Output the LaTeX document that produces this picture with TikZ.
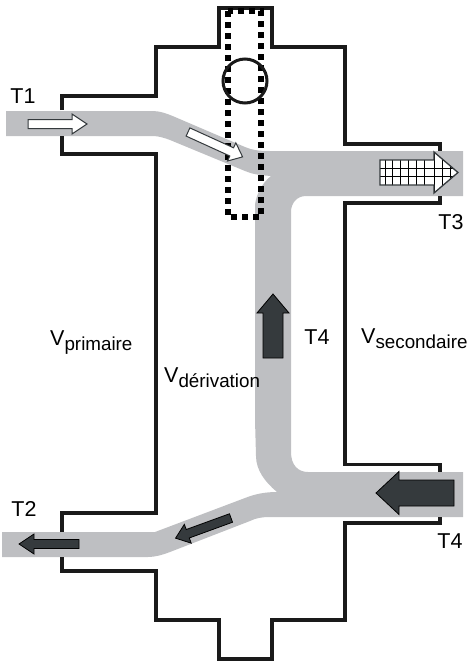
\documentclass[tikz,border=0pt]{standalone}
\usepackage{fontspec}
\setmainfont{Liberation Sans}
\definecolor{pipe}{HTML}{BEBFC2}
\definecolor{dark}{HTML}{353A3D}
\definecolor{wall}{HTML}{1A1A1A}
\newcommand{\fatarrow}[8]{%
  \begin{scope}[shift={(#1,#2)},rotate=#3]
    \draw[#8] (0,-#5) -- (#4-#7,-#5) -- (#4-#7,-#6) -- (#4,0) -- (#4-#7,#6) -- (#4-#7,#5) -- (0,#5) -- cycle;
  \end{scope}}
\newcommand{\subl}[1]{\raisebox{-5pt}{\fontsize{18.8}{20}\selectfont #1}}
\tikzset{
  wallline/.style={draw=wall,line width=3.2pt,line join=miter,line cap=butt},
  whitearrow/.style={draw=dark,line width=1pt,fill=white,line join=miter},
  darkarrow/.style={draw=black,line width=0.8pt,fill=dark,line join=miter},
  lbl/.style={inner sep=0pt,font=\fontsize{21.5}{24}\selectfont,text=black}
}
\begin{document}
\begin{tikzpicture}[x=1pt,y=-1pt]
\useasboundingbox (0,0) rectangle (468,662);
% pipe
\fill[pipe] (6,111) -- (153,111) .. controls (160,111) and (168,114) .. (175,117)
  -- (245,147) .. controls (252,150) and (258,151) .. (270,151)
  -- (463,151) -- (463,196) -- (306,196)
  .. controls (297,196) and (291,203) .. (291,212)
  -- (291,452) .. controls (291,465) and (298,472) .. (308,472)
  -- (463,472) -- (463,517) -- (270,517)
  .. controls (262,517) and (256,518) .. (250,521)
  -- (170,552) .. controls (162,555) and (155,557) .. (148,557)
  -- (2,557) -- (2,532) -- (155,532)
  -- (245,498) .. controls (255,494) and (265,492) .. (277,492)
  .. controls (265,482) and (256,470) .. (256,456)
  -- (255,420) -- (255,205) .. controls (256,195) and (262,183) .. (271,176)
  .. controls (258,175) and (252,174) .. (245,171)
  -- (170,140) .. controls (165,138) and (158,136) .. (153,136)
  -- (6,136) -- cycle;
% housing
\draw[wallline] (62,110) -- (62,96) -- (156,96) -- (156,47) -- (219,47) -- (219,8) -- (272,8) -- (272,47) -- (345,47) -- (345,144) -- (440,144) -- (440,151);
\draw[wallline] (440,196) -- (440,203) -- (345,203) -- (345,464.5) -- (440,464.5) -- (440,472);
\draw[wallline] (440,517) -- (440,523) -- (345,523) -- (345,620) -- (272,620) -- (272,659) -- (219,659) -- (219,620) -- (156,620) -- (156,571) -- (62,571) -- (62,557);
\draw[wallline] (62,532) -- (62,513) -- (156,513) -- (156,154) -- (62,154) -- (62,136);
% dotted sensor and circle
\draw[line width=5.6pt,dash pattern=on 5.6pt off 5.4pt] (228,11) rectangle (261,217);
\draw[line width=3pt,draw=wall] (245,81) circle (22);
% arrows
\fatarrow{28}{124}{0}{59}{4.5}{10}{15}{whitearrow}
\fatarrow{188}{132}{-24.5}{60}{4.5}{10}{12}{whitearrow}
\begin{scope}
  \clip (380,160) -- (434,160) -- (434,152) -- (458,172.5) -- (434,193) -- (434,185) -- (380,185) -- cycle;
  \fill[white] (375,150) rectangle (460,195);
  \draw[black,line width=0.9pt] (380,168) -- (458,168) (380,176.5) -- (458,176.5);
  \foreach \x in {385,392.5,400,408,416,424,434,442,450}{\draw[black,line width=0.9pt] (\x,150) -- (\x,195);}
\end{scope}
\draw[draw=dark,line width=1.3pt,line join=miter] (380,160) -- (434,160) -- (434,152) -- (458,172.5) -- (434,193) -- (434,185) -- (380,185) -- cycle;
\fatarrow{454}{493}{180}{78}{13}{21.5}{23}{darkarrow}
\fatarrow{273}{358}{90}{64}{10}{16}{19}{darkarrow}
\fatarrow{231}{518}{200}{59}{4.5}{10}{13}{darkarrow}
\fatarrow{79}{544}{180}{60}{4.5}{10}{15}{darkarrow}
% labels
\node[lbl] (t1) at (23,96) {T1};
\node[lbl] (t2) at (24,509) {T2};
\node[lbl] (t3) at (451,222) {T3};
\node[lbl] (t4a) at (450,541) {T4};
\node[lbl] (t4b) at (317,337) {T4};
\node[lbl,anchor=base west] (vp) at (50,345) {V\subl{primaire}};
\node[lbl,anchor=base west] (vd) at (164,382) {V\subl{dérivation}};
\node[lbl,anchor=base west] (vs) at (361,343) {V\subl{secondaire}};
\end{tikzpicture}
\end{document}
